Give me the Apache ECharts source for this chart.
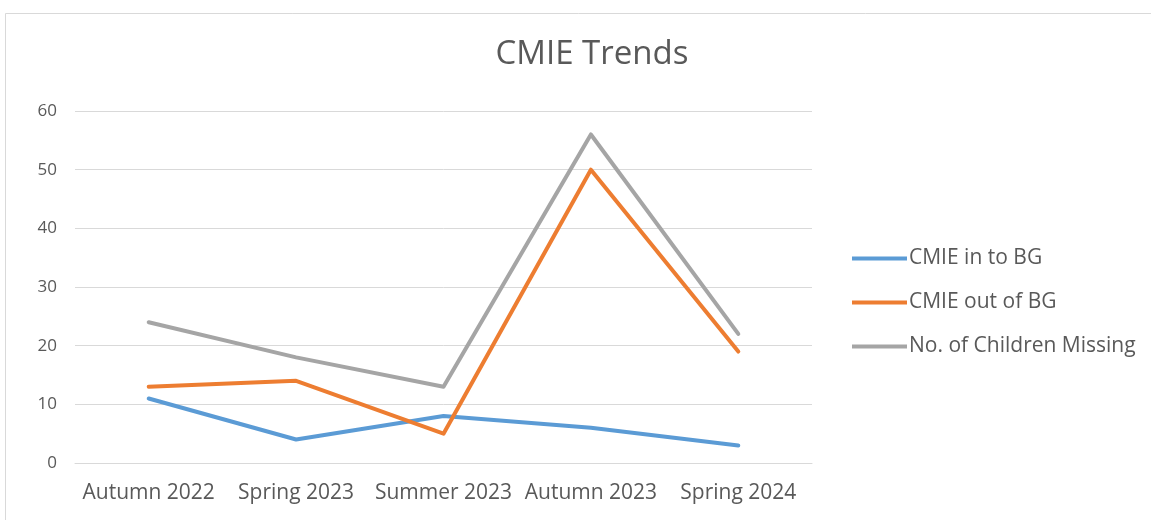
<!DOCTYPE html>
<html>
<head>
<meta charset="utf-8">
<script src="https://cdn.jsdelivr.net/npm/echarts@6/dist/echarts.min.js"></script>
<style>html,body{margin:0;padding:0;background:#fff;}#c{width:1151px;height:520px;}</style>
</head>
<body>
<div id="c"></div>
<script>
const categories = ['Autumn 2022', 'Spring 2023', 'Summer 2023', 'Autumn 2023', 'Spring 2024'];
const cmieIn = [11, 4, 8, 6, 3];
const cmieOut = [13, 14, 5, 50, 19];
const childrenMissing = [24, 18, 13, 56, 22];
const yTicks = [0, 10, 20, 30, 40, 50, 60];

const chart = echarts.init(document.getElementById('c'));
const font = '"Open Sans", "Noto Sans", sans-serif';
const mk = (name, data, color) => ({
  name, type: 'line', data, symbol: 'none', smooth: false,
  lineStyle: { color, width: 4, cap: 'round', join: 'round' },
  itemStyle: { color }
});
chart.setOption({
  animation: false,
  backgroundColor: '#fff',
  graphic: [{
    type: 'rect', shape: { x: 5.5, y: 13.5, width: 1160, height: 520 },
    style: { fill: 'none', stroke: '#d9d9d9', lineWidth: 1 }, silent: true, z: -10
  }],
  title: {
    text: 'CMIE Trends', left: 587, top: 33, textAlign: 'center',
    textStyle: { fontFamily: font, fontSize: 33, fontWeight: 'normal', color: '#595959' }
  },
  legend: {
    orient: 'vertical', left: 847, top: 243, itemGap: 23,
    itemWidth: 55, itemHeight: 4, icon: 'rect',
    textStyle: { fontFamily: font, fontSize: 21, color: '#595959', padding: [0, 0, 0, -3] },
    data: ['CMIE in to BG', 'CMIE out of BG', 'No. of Children Missing']
  },
  grid: { left: 75, right: 339, top: 111, bottom: 57, containLabel: false },
  xAxis: {
    type: 'category', data: categories, boundaryGap: true,
    axisLine: { show: true, lineStyle: { color: '#d9d9d9', width: 1 } },
    axisTick: { show: false },
    axisLabel: { fontFamily: font, fontSize: 21, color: '#595959', margin: 20, interval: 0 }
  },
  yAxis: {
    type: 'value', min: yTicks[0], max: yTicks[yTicks.length - 1], interval: 10,
    axisLine: { show: false }, axisTick: { show: false },
    axisLabel: { fontFamily: font, fontSize: 17, color: '#595959', margin: 18 },
    splitLine: { lineStyle: { color: '#d9d9d9', width: 1 } }
  },
  series: [
    mk('CMIE in to BG', cmieIn, '#5B9BD5'),
    mk('CMIE out of BG', cmieOut, '#ED7D31'),
    mk('No. of Children Missing', childrenMissing, '#A5A5A5')
  ]
});
</script>
</body>
</html>
